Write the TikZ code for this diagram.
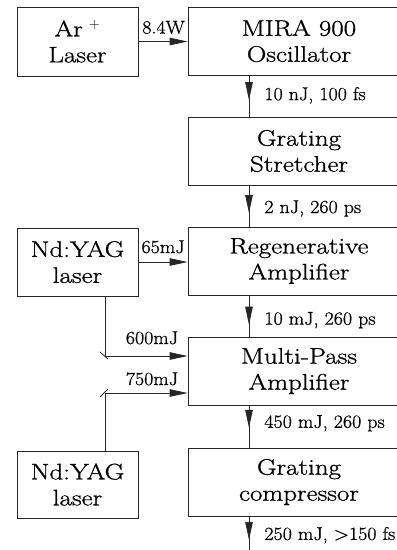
\documentclass[tikz,border=0pt]{standalone}
\usepackage{fontspec}
\newfontfamily\boxfont{Latin Modern Roman}[FakeStretch=1.2, FakeBold=1]
\newfontfamily\lblfont{Latin Modern Roman}[FakeStretch=1.08, FakeBold=0.9]
\usetikzlibrary{arrows.meta,decorations.markings}
\begin{document}
\begin{tikzpicture}[x=1pt,y=-1pt,
  box/.style={draw=black!85, line width=0.8pt, rectangle, align=center, inner sep=0pt,
              font=\boxfont\fontsize{22.5}{26}\selectfont},
  rbox/.style={box, minimum width=222pt, minimum height=68pt},
  lbox/.style={box, minimum width=121pt, minimum height=68pt},
  conn/.style={draw=black!85, line width=0.8pt},
  arr/.style={conn, -{Triangle[length=18pt,width=7.5pt]}},
  midarr/.style={conn, postaction={decorate},
     decoration={markings, mark=at position #1 with {\arrow{Triangle[length=18pt,width=7.5pt]}}}},
  lbl/.style={font=\lblfont\fontsize{18.5}{20}\selectfont, inner sep=0pt},
  vlbl/.style={lbl, anchor=base west, xshift=15pt},
  hlbl/.style={lbl, anchor=base east, pos=1}
]
\useasboundingbox (0,0) rectangle (397,550);

% right column
\node[rbox] (mira) at (299,41)  {MIRA 900\\Oscillator};
\node[rbox] (str)  at (299,151) {Grating\\Stretcher};
\node[rbox] (reg)  at (299,261) {Regenerative\\Amplifier};
\node[rbox] (mp)   at (299,371) {Multi-Pass\\Amplifier};
\node[rbox] (comp) at (299,482) {Grating\\compressor};

% left column
\node[lbox, minimum height=69pt] (ar)  at (77.5,41.5) {Ar\,$^{\,+}$\\Laser};
\node[lbox] (nd1) at (77.5,262) {Nd:YAG\\laser};
\node[lbox, minimum height=67pt] (nd2) at (77.5,484.5) {Nd:YAG\\laser};

\coordinate (col) at (249,0);
\coordinate (m1) at (105,356);
\coordinate (m2) at (105,393);
\coordinate (out) at (249,550);

% vertical chain
\draw[midarr=0.6]  (mira.south -| col) -- node[vlbl, pos=0.6]{10 nJ, 100 fs} (str.north -| col);
\draw[midarr=0.67] (str.south -| col)  -- node[vlbl, pos=0.67]{2 nJ, 260 ps} (reg.north -| col);
\draw[midarr=0.71] (reg.south -| col)  -- node[vlbl, pos=0.71]{10 mJ, 260 ps} (mp.north -| col);
\draw[midarr=0.53] (mp.south -| col)   -- node[vlbl, pos=0.53]{450 mJ, 260 ps} (comp.north -| col);
\draw[midarr=0.7]  (comp.south -| col) -- node[vlbl, pos=0.7]{250 mJ, >150 fs} (out);

% horizontal pumps
\draw[arr] (ar.east) -- node[hlbl, xshift=-2.5pt, yshift=8pt]{8.4W} (ar.east -| mira.west);
\draw[arr] (nd1.east) -- node[hlbl, xshift=-2.5pt, yshift=9pt]{65mJ} (nd1.east -| reg.west);
\draw[arr] (nd1.south -| m1) -- (m1) -- node[hlbl, xshift=-9pt, yshift=12pt]{600mJ} (mp.west |- m1);
\draw[arr] (nd2.north -| m2) -- (m2) -- node[hlbl, xshift=-9pt, yshift=8pt]{750mJ} (mp.west |- m2);

% mirrors
\draw[conn] ([shift={(-5,-4)}]m1) -- ([shift={(3,3)}]m1);
\draw[conn] ([shift={(-5,4)}]m2) -- ([shift={(3,-4)}]m2);
\end{tikzpicture}
\end{document}
